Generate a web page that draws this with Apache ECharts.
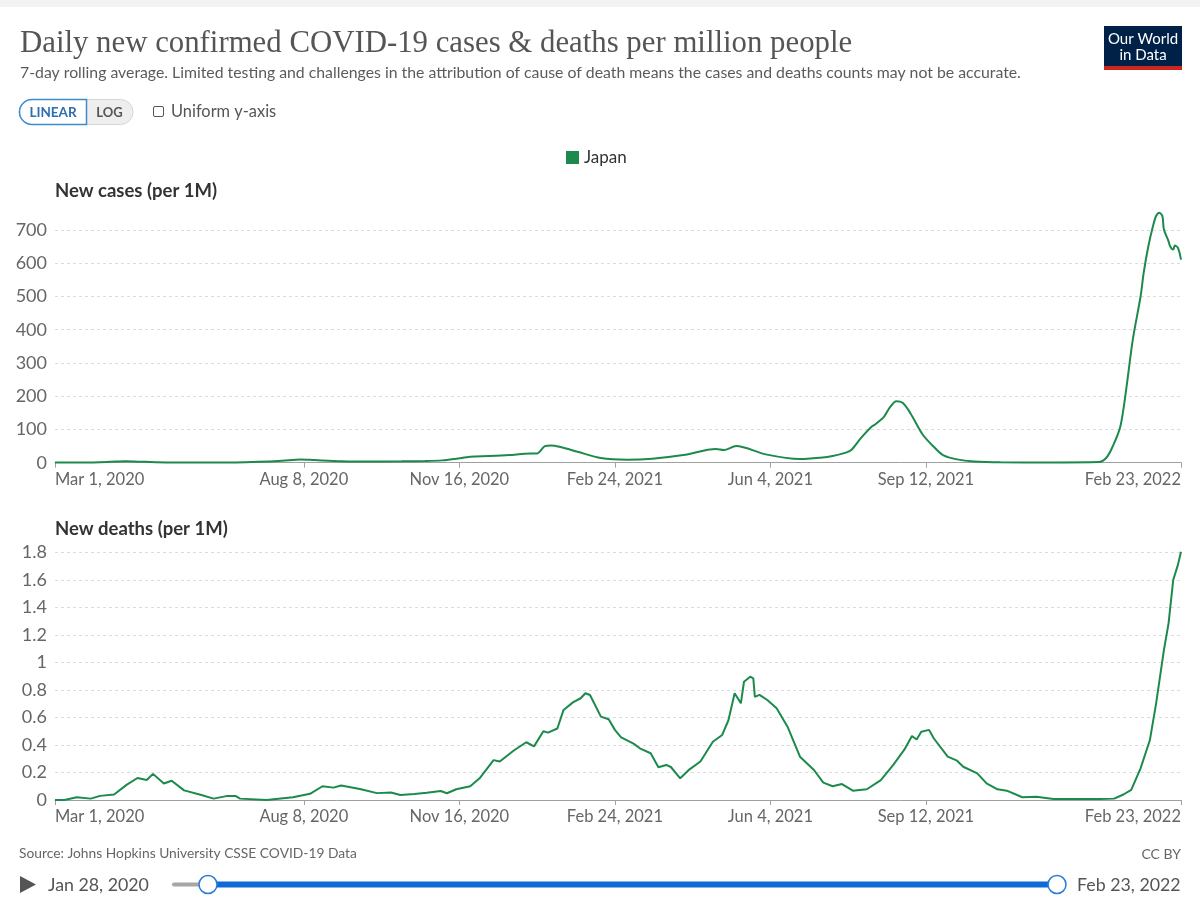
<!DOCTYPE html>
<html>
<head>
<meta charset="utf-8">
<script src="https://cdn.jsdelivr.net/npm/echarts@6/dist/echarts.min.js"></script>
<style>
html,body{margin:0;padding:0;background:#fff;}
#main{width:1200px;height:901px;}
</style>
</head>
<body>
<div id="main"></div>
<script>
// ---- data ----
const casesDates = ['2020-03-01','2020-03-20','2020-04-05','2020-04-15','2020-04-28','2020-05-12','2020-06-01','2020-06-25','2020-07-10','2020-07-25','2020-08-06','2020-08-15','2020-09-01','2020-09-20','2020-10-10','2020-10-25','2020-11-05','2020-11-14','2020-11-23','2020-12-05','2020-12-18','2020-12-28','2021-01-05','2021-01-10','2021-01-14','2021-01-20','2021-01-31','2021-02-15','2021-03-04','2021-03-20','2021-04-09','2021-04-30','2021-05-05','2021-05-13','2021-06-01','2021-06-23','2021-07-06','2021-07-14','2021-07-23','2021-07-26','2021-08-01','2021-08-08','2021-08-10','2021-08-16','2021-08-20','2021-08-24','2021-08-28','2021-09-02','2021-09-10','2021-09-17','2021-09-23','2021-10-02','2021-10-13','2021-10-30','2021-12-01','2022-01-01','2022-01-06','2022-01-10','2022-01-15','2022-01-19','2022-01-23','2022-01-28','2022-01-30','2022-02-02','2022-02-05','2022-02-07','2022-02-09','2022-02-11','2022-02-12','2022-02-15','2022-02-16','2022-02-18','2022-02-19','2022-02-21','2022-02-23'];
const casesValues = [0.3,0.6,2.5,4.3,2.5,0.8,0.3,0.6,2.5,6,10,8,4.5,3.5,4,5,7,12,18,20,23,27,28,50,52,47,33,14,9,12,23,41,38,50,25,11,15,20,31,38,73,108,114,138,168,185,180,149,84,48,23,10,3.5,1,0.8,2,15,48,109,229,370,500,571,651,712,742,752,742,702,666,651,641,653,647,611];

const deathsDates = ['2020-03-01','2020-03-07','2020-03-15','2020-03-24','2020-03-30','2020-04-08','2020-04-16','2020-04-23','2020-04-29','2020-05-03','2020-05-10','2020-05-15','2020-05-23','2020-06-02','2020-06-11','2020-06-20','2020-06-25','2020-06-28','2020-07-15','2020-08-01','2020-08-12','2020-08-20','2020-08-27','2020-09-01','2020-09-13','2020-09-24','2020-10-03','2020-10-09','2020-10-18','2020-10-26','2020-11-04','2020-11-08','2020-11-14','2020-11-23','2020-11-29','2020-12-08','2020-12-12','2020-12-21','2020-12-29','2021-01-03','2021-01-09','2021-01-12','2021-01-18','2021-01-22','2021-01-28','2021-02-02','2021-02-05','2021-02-08','2021-02-15','2021-02-20','2021-02-24','2021-02-28','2021-03-08','2021-03-12','2021-03-19','2021-03-24','2021-03-29','2021-04-01','2021-04-07','2021-04-13','2021-04-20','2021-04-28','2021-05-04','2021-05-08','2021-05-12','2021-05-16','2021-05-18','2021-05-22','2021-05-24','2021-05-25','2021-05-28','2021-06-02','2021-06-08','2021-06-15','2021-06-23','2021-07-02','2021-07-08','2021-07-14','2021-07-20','2021-07-27','2021-08-05','2021-08-14','2021-08-22','2021-08-29','2021-09-03','2021-09-06','2021-09-09','2021-09-14','2021-09-17','2021-09-26','2021-10-02','2021-10-06','2021-10-15','2021-10-21','2021-10-28','2021-11-03','2021-11-13','2021-11-22','2021-12-03','2022-01-02','2022-01-11','2022-01-17','2022-01-22','2022-01-28','2022-02-03','2022-02-07','2022-02-12','2022-02-15','2022-02-18','2022-02-21','2022-02-23'];
const deathsValues = [0,0,0.02,0.01,0.03,0.04,0.11,0.16,0.145,0.19,0.12,0.14,0.07,0.04,0.01,0.03,0.03,0.01,0,0.02,0.045,0.1,0.09,0.105,0.08,0.05,0.055,0.036,0.044,0.053,0.065,0.049,0.078,0.10,0.158,0.29,0.28,0.36,0.42,0.39,0.50,0.49,0.52,0.655,0.71,0.74,0.776,0.764,0.606,0.587,0.51,0.456,0.41,0.376,0.34,0.238,0.255,0.24,0.158,0.223,0.28,0.424,0.473,0.58,0.776,0.703,0.86,0.897,0.885,0.75,0.764,0.727,0.667,0.533,0.315,0.218,0.126,0.10,0.116,0.068,0.078,0.145,0.255,0.364,0.465,0.44,0.497,0.51,0.449,0.315,0.286,0.242,0.194,0.121,0.078,0.068,0.02,0.024,0.007,0.007,0.01,0.04,0.073,0.23,0.436,0.703,1.09,1.285,1.6,1.71,1.806];

const xTickDates = ['2020-03-01','2020-08-08','2020-11-16','2021-02-24','2021-06-04','2021-09-12','2022-02-23'];
const xMin = '2020-03-01';
const xMax = '2022-02-23';
const casesTicks = [0,100,200,300,400,500,600,700];
const deathsTicks = [0,0.2,0.4,0.6,0.8,1,1.2,1.4,1.6,1.8];

// ---- helpers ----
const MONTHS = ['Jan','Feb','Mar','Apr','May','Jun','Jul','Aug','Sep','Oct','Nov','Dec'];
function ts(s){ const p = s.split('-').map(Number); return Date.UTC(p[0], p[1]-1, p[2]); }
function fmtDate(v){ const d = new Date(v); return MONTHS[d.getUTCMonth()] + ' ' + d.getUTCDate() + ', ' + d.getUTCFullYear(); }
function pairs(ds, vs){ return ds.map((d,i)=>[ts(d), vs[i]]); }

const GREEN = '#1b8a4c';
const FONT = 'Lato';
const tickTs = xTickDates.map(ts);

function xAxisCfg(gi){
  return {
    type:'value', gridIndex:gi, min:ts(xMin), max:ts(xMax), scale:true,
    axisLine:{show:true, onZero:false, lineStyle:{color:'#a0a0a0', width:1}},
    axisTick:{show:true, customValues:tickTs, length:5, lineStyle:{color:'#a0a0a0'}},
    axisLabel:{customValues:tickTs, formatter:fmtDate, color:'#666', fontFamily:FONT, fontSize:16.5, margin:8,
      alignMinLabel:'left', alignMaxLabel:'right', hideOverlap:false},
    splitLine:{show:false}
  };
}
function yAxisCfg(gi, ticks){
  return {
    type:'value', gridIndex:gi, min:ticks[0], max:ticks[ticks.length-1], interval:ticks[1]-ticks[0],
    axisLine:{show:false}, axisTick:{show:false},
    axisLabel:{color:'#666', fontFamily:FONT, fontSize:18, margin:8,
      formatter:(v)=>{ const t = ticks.find(x=>Math.abs(x-v)<1e-9); return t===undefined ? '' : String(t); }},
    splitLine:{show:true, lineStyle:{color:'#dcdcdc', type:[3,3], width:1}}
  };
}

const chart = echarts.init(document.getElementById('main'), null, {renderer:'canvas'});
chart.setOption({
  animation:false,
  backgroundColor:'#fff',
  title:{
    text:'Daily new confirmed COVID-19 cases & deaths per million people',
    subtext:'7-day rolling average. Limited testing and challenges in the attribution of cause of death means the cases and deaths counts may not be accurate.',
    left:15, top:23, itemGap:6,
    textStyle:{fontFamily:'Liberation Serif', fontWeight:'normal', fontSize:30.8, color:'#555'},
    subtextStyle:{fontFamily:FONT, fontSize:15.8, color:'#5b5b5b'}
  },
  legend:{
    data:['Japan'], left:561, top:144, icon:'rect', itemWidth:13, itemHeight:13, itemGap:7,
    textStyle:{fontFamily:FONT, fontSize:17, color:'#333'}
  },
  grid:[
    {left:55, right:19, top:230, bottom:438.3},
    {left:55, right:19, top:552.5, bottom:101}
  ],
  xAxis:[xAxisCfg(0), xAxisCfg(1)],
  yAxis:[yAxisCfg(0, casesTicks), yAxisCfg(1, deathsTicks)],
  series:[
    {name:'Japan', type:'line', xAxisIndex:0, yAxisIndex:0, data:pairs(casesDates, casesValues),
      showSymbol:false, symbol:'none', smooth:0.3, clip:false, lineStyle:{color:GREEN, width:2}, itemStyle:{color:GREEN}},
    {name:'Japan', type:'line', xAxisIndex:1, yAxisIndex:1, data:pairs(deathsDates, deathsValues),
      showSymbol:false, symbol:'none', smooth:false, clip:false, lineStyle:{color:GREEN, width:2}, itemStyle:{color:GREEN}}
  ],
  graphic:[
    {type:'rect', shape:{x:0, y:0, width:1200, height:7}, style:{fill:'#f3f3f3'}, silent:true},
    {type:'rect', shape:{x:1104, y:26, width:78, height:40}, style:{fill:'#002147'}},
    {type:'rect', shape:{x:1104, y:66, width:78, height:4}, style:{fill:'#ce261e'}},
    {type:'text', x:1143, y:39, style:{text:'Our World', fill:'#fff', font:'15px Lato', align:'center', verticalAlign:'middle'}},
    {type:'text', x:1143, y:55, style:{text:'in Data', fill:'#fff', font:'15px Lato', align:'center', verticalAlign:'middle'}},
    {type:'rect', shape:{x:19, y:99.5, width:114, height:25, r:12.5}, style:{fill:'#eeeeee', stroke:'#d6d6d6', lineWidth:1}},
    {type:'rect', shape:{x:19.5, y:99.5, width:67, height:25, r:[12.5,0,0,12.5]}, style:{fill:'#fff', stroke:'#3d8bd1', lineWidth:1.5}},
    {type:'text', x:53, y:112.5, style:{text:'LINEAR', fill:'#2b6fb3', font:'bold 13.5px Lato', align:'center', verticalAlign:'middle'}},
    {type:'text', x:109.5, y:112.5, style:{text:'LOG', fill:'#555', font:'bold 13px Lato', align:'center', verticalAlign:'middle'}},
    {type:'rect', shape:{x:153.5, y:106.5, width:10, height:10, r:1.5}, style:{fill:'#fff', stroke:'#555', lineWidth:1}},
    {type:'text', x:171, y:112, style:{text:'Uniform y-axis', fill:'#555', font:'16.4px Lato', verticalAlign:'middle'}},
    {type:'text', x:55, y:191, style:{text:'New cases (per 1M)', fill:'#333', font:'bold 18.5px Lato', verticalAlign:'middle'}},
    {type:'text', x:55, y:529, style:{text:'New deaths (per 1M)', fill:'#333', font:'bold 18.5px Lato', verticalAlign:'middle'}},
    {type:'text', x:19, y:854, style:{text:'Source: Johns Hopkins University CSSE COVID-19 Data', fill:'#666', font:'13.8px Lato', verticalAlign:'middle'}},
    {type:'text', x:1181, y:854, style:{text:'CC BY', fill:'#666', font:'14px Lato', align:'right', verticalAlign:'middle'}},
    {type:'polygon', shape:{points:[[20,876],[20,893],[36,884.5]]}, style:{fill:'#555'}},
    {type:'text', x:48, y:885, style:{text:'Jan 28, 2020', fill:'#555', font:'17.8px Lato', verticalAlign:'middle'}},
    {type:'rect', shape:{x:172, y:882.5, width:36, height:4, r:2}, style:{fill:'#a6a6a6'}},
    {type:'rect', shape:{x:208, y:881.5, width:849, height:6}, style:{fill:'#0f6ad8'}},
    {type:'circle', shape:{cx:208, cy:884.5, r:9}, style:{fill:'#fff', stroke:'#2c7bd8', lineWidth:1.5}},
    {type:'circle', shape:{cx:1057, cy:884.5, r:9}, style:{fill:'#fff', stroke:'#2c7bd8', lineWidth:1.5}},
    {type:'text', x:1077, y:885, style:{text:'Feb 23, 2022', fill:'#555', font:'17.8px Lato', verticalAlign:'middle'}}
  ]
});
</script>
</body>
</html>
